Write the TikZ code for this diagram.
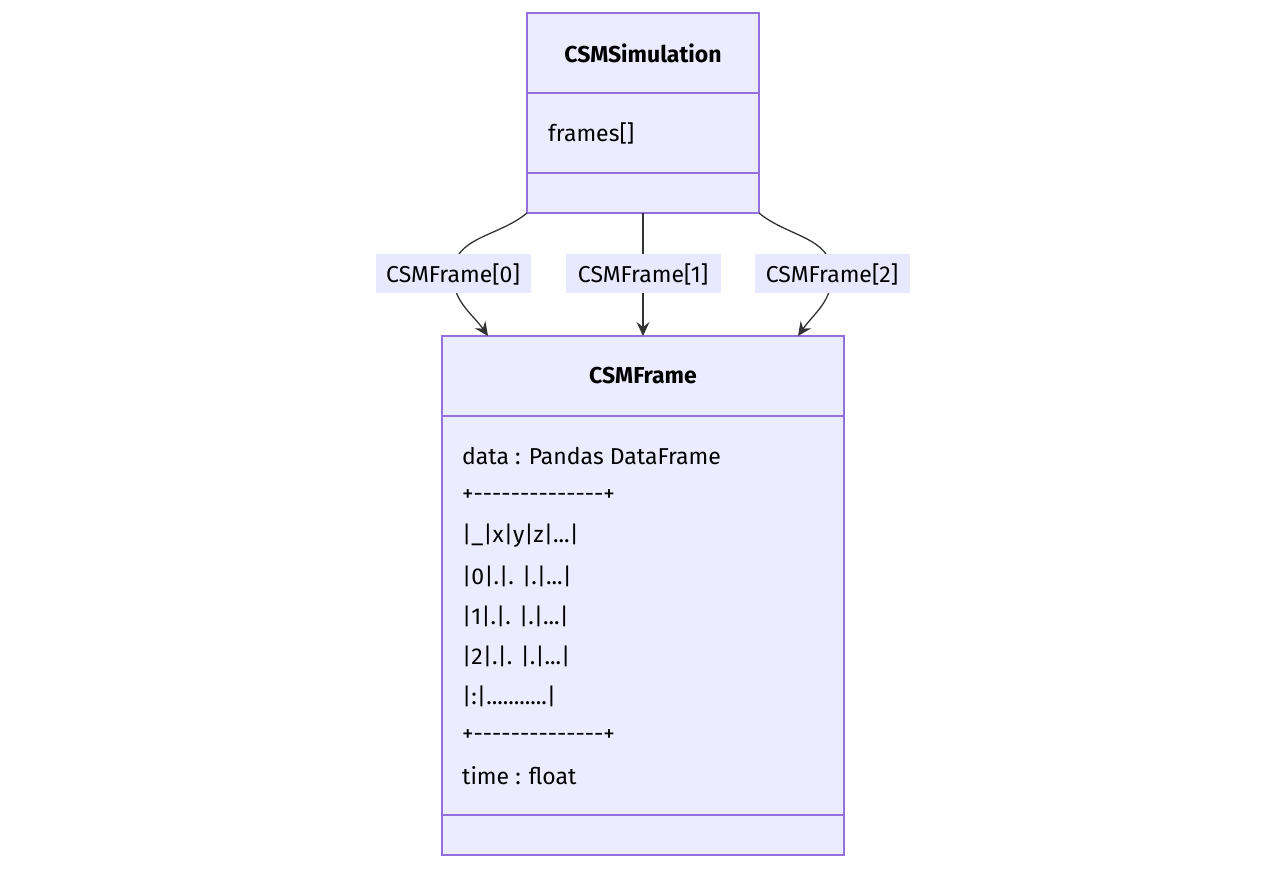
\documentclass[tikz,border=0pt]{standalone}
\usepackage{fontspec}
\setmainfont{Fira Sans}
\usetikzlibrary{arrows.meta}
\definecolor{boxfill}{HTML}{ECECFF}
\definecolor{boxline}{HTML}{9370DB}
\definecolor{lblfill}{HTML}{E8E8FF}
\definecolor{edge}{HTML}{333333}
\tikzset{
  cbox/.style={draw=boxline, fill=boxfill, line width=1.2pt},
  txt/.style={anchor=west, inner sep=0pt, font=\fontsize{23}{23}\selectfont},
  lbl/.style={fill=lblfill, inner sep=0pt, minimum width=155pt, minimum height=39pt, font=\fontsize{23}{23}\selectfont},
  conn/.style={draw=edge, line width=1.3pt, -{Stealth[length=14pt,width=13pt,inset=5pt]}}
}
\newcommand{\dsh}{-{}-{}-{}-{}-{}-{}-{}-{}-{}-{}-{}-{}-{}-{}}
\begin{document}
\begin{tikzpicture}[x=1pt,y=-1pt]
\useasboundingbox (0,0) rectangle (1286,869);
% CSMSimulation
\draw[cbox] (527,13) rectangle (759,213);
\draw[boxline, line width=1.2pt] (527,93) -- (759,93) (527,173) -- (759,173);
\node[txt, anchor=center, font=\fontsize{23}{23}\selectfont\bfseries] (simt) at (643,53) {CSMSimulation};
\node[txt] (simf) at (548,133) {frames[]};
\coordinate (simSW) at (527,213);
\coordinate (simS) at (643,213);
\coordinate (simSE) at (759,213);
% CSMFrame
\draw[cbox] (442,336) rectangle (844,855);
\draw[boxline, line width=1.2pt] (442,416) -- (844,416) (442,815) -- (844,815);
\node[txt, anchor=center, font=\fontsize{23}{23}\selectfont\bfseries] (frt) at (643,376) {CSMFrame};
\node[txt] (a1) at (462,456) {data : Pandas DataFrame};
\node[txt] (a2) at (462,496) {+\dsh+};
\node[txt] (a3) at (462,536) {|\_|x|y|z|...|};
\node[txt] (a4) at (462,576) {|0|.|. |.|...|};
\node[txt] (a5) at (462,616) {|1|.|. |.|...|};
\node[txt] (a6) at (462,656) {|2|.|. |.|...|};
\node[txt] (a7) at (462,696) {|:|...........|};
\node[txt] (a8) at (462,736) {+\dsh+};
\node[txt] (a9) at (462,776) {time : float};
\coordinate (frL) at (488,336);
\coordinate (frM) at (643,336);
\coordinate (frR) at (798,336);
% edges
\coordinate (l0c) at (453,274);
\coordinate (l1c) at (643,274);
\coordinate (l2c) at (832,274);
\draw[conn] (simSW) to[out=-140,in=90] (l0c) to[out=-90,in=125] (frL);
\draw[conn] (simS) -- (frM);
\draw[conn] (simSE) to[out=-40,in=90] (l2c) to[out=-90,in=55] (frR);
\node[lbl] (l0) at (l0c) {CSMFrame[0]};
\node[lbl] (l1) at (l1c) {CSMFrame[1]};
\node[lbl] (l2) at (l2c) {CSMFrame[2]};
\end{tikzpicture}
\end{document}
